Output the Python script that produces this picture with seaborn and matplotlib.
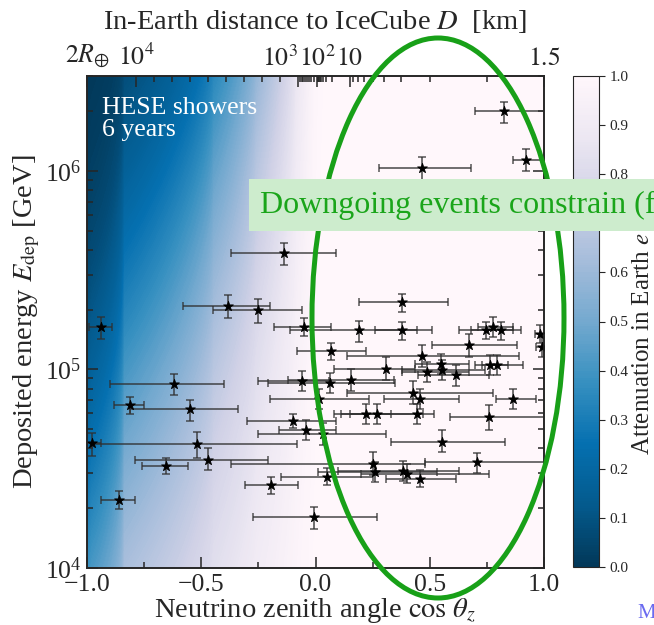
import numpy as np
import pandas as pd
import matplotlib
matplotlib.use("Agg")
import matplotlib.pyplot as plt
import seaborn as sns
from matplotlib.patches import Ellipse
from matplotlib.ticker import FixedLocator, NullFormatter, LogLocator

# ---------------------------------------------------------------------------
# HESE shower events: reconstructed zenith (cos) and deposited energy (TeV)
# with the lower / upper edges of each uncertainty interval
# ---------------------------------------------------------------------------
cos_z = [-0.14, -0.385, -0.25, -0.94, -0.05, -0.06, -0.62, -0.81, -0.55, -0.10,
         -0.04, -0.98, -0.52, -0.47, -0.655, 0.25, 0.705, 0.26, 0.385, 0.40,
         0.05, 0.457, -0.195, -0.86, -0.006, 0.826, 0.467, 0.92, 0.377, 0.19,
         0.38, 0.746, 0.778, 0.81, 0.982, 0.99, 0.068, 0.673, 0.468, 0.31,
         0.548, 0.552, 0.49, 0.613, 0.764, 0.796, 0.063, 0.155, 0.426, 0.459,
         0.863, 0.017, 0.22, 0.27, 0.443, 0.761, 0.032, 0.552]
cos_lo = [-0.37, -0.58, -0.45, -0.99, -0.18, -0.25, -0.90, -0.88, -0.81, -0.30,
          -0.16, -1.00, -0.98, -0.79, -0.76, -0.37, 0.48, 0.01, 0.10, 0.20,
          -0.15, 0.31, -0.31, -0.94, -0.275, 0.70, 0.28, 0.866, 0.19, -0.11,
          0.26, 0.63, 0.71, 0.68, 0.96, 0.965, -0.08, 0.51, 0.14, 0.08,
          0.435, 0.38, 0.38, 0.45, 0.70, 0.73, -0.21, -0.12, 0.137, 0.30,
          0.79, -0.20, 0.08, 0.11, 0.15, 0.59, -0.25, 0.33]
cos_hi = [0.09, -0.20, -0.06, -0.89, 0.07, 0.06, -0.40, -0.75, -0.34, 0.09,
          0.09, -0.94, -0.08, -0.21, -0.56, 0.48, 1.05, 0.53, 0.63, 0.76,
          0.25, 0.615, -0.075, -0.79, 0.27, 1.05, 0.68, 1.05, 0.58, 0.446,
          0.51, 0.864, 0.866, 0.90, 1.05, 1.05, 0.22, 0.88, 0.89, 0.435,
          0.673, 0.74, 0.67, 0.76, 0.844, 0.91, 0.35, 0.345, 0.775, 0.63,
          0.963, 0.235, 0.33, 0.47, 0.52, 1.05, 0.31, 0.83]
e_dep_tev = [384, 209, 199, 163, 164, 87.1, 84.1, 65.9, 62.9, 54.8,
             49.3, 42.4, 42.0, 35.1, 32.6, 33.3, 34.2, 30.3, 30.9, 29.9,
             28.8, 28.2, 26.1, 22.1, 18.0, 1990, 1030, 1130, 218, 157,
             157, 157, 164, 157, 151, 129, 124, 132, 117, 101,
             106, 98.9, 96.9, 93.3, 105, 105, 85.3, 88.1, 76.0, 70.6,
             71.3, 71.3, 59.8, 59.4, 59.8, 57.5, 47.5, 43.2]
e_lo_tev = [334, 182, 172, 142, 148, 77.6, 74.0, 59.4, 55.0, 50.4,
            44.0, 36.6, 35.7, 31.0, 29.7, 29.3, 30.0, 27.0, 27.5, 26.7,
            26.1, 25.5, 23.7, 19.9, 15.8, 1740, 898, 1000, 194, 137,
            140, 143, 146, 140, 136, 116, 112, 115, 103, 88.7,
            94.5, 88.1, 86.4, 82.2, 93.5, 93.5, 76.0, 77.6, 66.7, 62.9,
            63.5, 63.5, 53.3, 52.9, 53.3, 49.3, 41.5, 38.2]
e_hi_tev = [432, 238, 225, 183, 182, 97.7, 94.5, 72.6, 69.8, 59.4,
            55.3, 47.6, 48.2, 40.1, 35.7, 38.3, 37.8, 34.0, 34.6, 33.5,
            31.8, 31.3, 28.6, 24.5, 20.2, 2230, 1170, 1280, 240, 176,
            174, 173, 184, 173, 168, 145, 136, 150, 132, 115,
            119, 111, 109, 105, 118, 118, 95.7, 100, 87.1, 79.2,
            80.0, 80.0, 67.1, 66.7, 67.1, 65.9, 53.6, 49.3]

# Top-axis distances (km) and their labels
dist_major_km = ["2R", 1e4, 1e3, 1e2, 10, 1.5]
dist_major_labels = [r"$2R_{\oplus}$", r"$10^4$", r"$10^3$", r"$10^2$", r"$10$", r"$1.5$"]
colorbar_ticks = [0.0, 0.1, 0.2, 0.3, 0.4, 0.5, 0.6, 0.7, 0.8, 0.9, 1.0]

# ---------------------------------------------------------------------------
# Simple layered Earth and neutrino absorption
# ---------------------------------------------------------------------------
R_EARTH = 6371.0       # km
DEPTH = 1.5            # km, detector depth
R_DET = R_EARTH - DEPTH
shell_radius = np.array([1221.5, 3480.0, 5701.0, 6151.0, 6346.6, 6371.0])
shell_density = np.array([12.9, 10.9, 4.9, 3.9, 3.35, 2.7])  # g/cm^3
N_AVOGADRO = 6.022e23
SIGMA_0 = 1.5e-34      # cm^2 at 10 TeV
SIGMA_SLOPE = 0.30


def path_length(c):
    return -R_DET * c + np.sqrt(R_DET**2 * c**2 + R_EARTH**2 - R_DET**2)


def cos_of_distance(d_km):
    return (R_EARTH**2 - R_DET**2 - d_km**2) / (2.0 * R_DET * d_km)


def column_depth(c_vals, n_steps=3000):
    L = path_length(c_vals)
    frac = (np.arange(n_steps) + 0.5) / n_steps
    s = L[:, None] * frac[None, :]
    r = np.sqrt(R_DET**2 + 2 * R_DET * s * c_vals[:, None] + s**2)
    idx = np.clip(np.searchsorted(shell_radius, r), 0, len(shell_density) - 1)
    rho = shell_density[idx]
    return (rho.sum(axis=1) * L / n_steps) * 1e5   # g/cm^2


c_grid = np.linspace(-1, 1, 401)
logE_grid = np.linspace(4, np.log10(3e6), 241)
X = column_depth(c_grid)
sigma = SIGMA_0 * (10**logE_grid / 1e4) ** SIGMA_SLOPE
atten = np.exp(-N_AVOGADRO * sigma[:, None] * X[None, :])

# ---------------------------------------------------------------------------
# Figure
# ---------------------------------------------------------------------------
sns.set_style("ticks")
plt.rcParams["font.family"] = ["Liberation Serif", "DejaVu Serif"]
plt.rcParams["mathtext.fontset"] = "stix"
plt.rcParams["axes.linewidth"] = 1.2

W, H = 654, 625
fig = plt.figure(figsize=(W / 100, H / 100), dpi=100)
ax = fig.add_axes([87 / W, 1 - 568 / H, 457 / W, 492 / H])

cs = ax.contourf(c_grid, 10**logE_grid, atten, levels=np.linspace(0, 1, 201),
                 cmap="PuBu_r", vmin=0, vmax=1, antialiased=False, zorder=0)

events = pd.DataFrame({
    "cosz": cos_z, "cos_lo": cos_lo, "cos_hi": cos_hi,
    "edep": np.array(e_dep_tev) * 1e3,
    "e_lo": np.array(e_lo_tev) * 1e3,
    "e_hi": np.array(e_hi_tev) * 1e3,
})

ax.errorbar(events["cosz"], events["edep"],
            xerr=[events["cosz"] - events["cos_lo"], events["cos_hi"] - events["cosz"]],
            yerr=[events["edep"] - events["e_lo"], events["e_hi"] - events["edep"]],
            fmt="none", ecolor="#303030", elinewidth=1.3, capsize=2.8, capthick=1.2,
            alpha=0.75, zorder=3)
sns.scatterplot(data=events, x="cosz", y="edep", marker="*", s=55, color="black",
                edgecolor="black", linewidth=0.6, ax=ax, zorder=4, legend=False)

ax.set_xlim(-1, 1)
ax.set_yscale("log")
ax.set_ylim(1e4, 3e6)
ax.set_xticks([-1, -0.5, 0, 0.5, 1])
ax.set_xticklabels(["\u22121.0", "\u22120.5", "0.0", "0.5", "1.0"])
ax.xaxis.set_minor_locator(FixedLocator([-0.75, -0.25, 0.25, 0.75]))
ax.yaxis.set_major_locator(LogLocator(base=10, numticks=10))
ax.yaxis.set_minor_locator(LogLocator(base=10, subs=np.arange(2, 10), numticks=20))
ax.yaxis.set_minor_formatter(NullFormatter())
ax.tick_params(which="both", direction="in", top=False, right=True, labelsize=18.5,
               width=1.1, pad=4)
ax.tick_params(which="major", length=8)
ax.tick_params(which="minor", length=4)
ax.set_xlabel(r"Neutrino zenith angle $\cos\,\theta_z$", fontsize=20.5, labelpad=0)
ax.set_ylabel(r"Deposited energy $E_{\rm dep}$ [GeV]", fontsize=20.5, labelpad=2)

ax.text(0.033, 0.958, "HESE showers\n6 years", transform=ax.transAxes, color="white",
        fontsize=18.5, va="top", ha="left", linespacing=1.0, zorder=5)

# Top axis: in-Earth distance
ax2 = ax.twiny()
ax2.set_xlim(-1, 1)
major_pos = [-1.0] + [cos_of_distance(d) for d in dist_major_km[1:]]
ax2.set_xticks(major_pos)
ax2.set_xticklabels(dist_major_labels)
minor_d = [m * 10**k for k in range(0, 4) for m in range(2, 10)]
ax2.xaxis.set_minor_locator(FixedLocator([cos_of_distance(d) for d in minor_d]))
ax2.tick_params(which="both", direction="in", labelsize=18.5, width=1.1, pad=4)
ax2.tick_params(which="major", length=8)
ax2.tick_params(which="minor", length=4)
for t in ax2.get_xticklabels():
    if t.get_text() == r"$10^3$":
        t.set_ha("right")
ax2.set_xlabel(r"In-Earth distance to IceCube $D$  [km]", fontsize=20.5, labelpad=10)

# Colour bar
cax = fig.add_axes([573 / W, 1 - 567 / H, 26 / W, 491 / H])
cb = fig.colorbar(cs, cax=cax, ticks=colorbar_ticks)
cb.ax.tick_params(labelsize=11, length=4, width=0.8, direction="out")
cb.ax.set_yticklabels([f"{v:.1f}" for v in colorbar_ticks])
cb.outline.set_linewidth(0.8)
fig.text(643 / W, 1 - 455 / H, r"Attenuation in Earth $e^{-\tau}$", fontsize=18,
         rotation=90, ha="center", va="bottom")

# Highlight of the downgoing region
fig.add_artist(Ellipse((438 / W, 1 - 318 / H), 252 / W, 560 / H,
                       transform=fig.transFigure, fill=False, edgecolor="#18a018",
                       linewidth=3.6, zorder=2.5, clip_on=False))
fig.text(260 / W, 1 - 205 / H, "Downgoing events constrain (flux normalization)",
         fontsize=23, color="#1aa51a", va="center", ha="left", zorder=6,
         bbox=dict(boxstyle="square,pad=0.36", facecolor="#cdeccd", edgecolor="none"))
fig.text(637 / W, 1 - 613 / H, "M", fontsize=15, color="#6a6af0", va="center", ha="left")

fig.savefig("out.png", dpi=100)
